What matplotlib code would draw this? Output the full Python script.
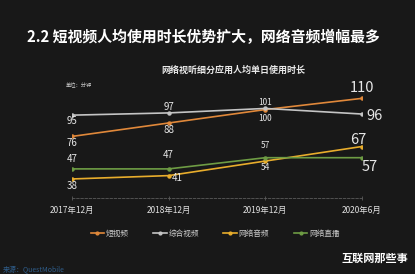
import matplotlib.pyplot as plt
from matplotlib.lines import Line2D

plt.rcParams['font.family'] = ['Noto Sans CJK SC', 'DejaVu Sans']

periods = ['2017年12月', '2018年12月', '2019年12月', '2020年6月']
series_names = ['短视频', '综合视频', '网络音频', '网络直播']
short_video = [76, 88, 100, 110]
general_video = [95, 97, 101, 96]
audio = [38, 41, 54, 67]
live = [47, 47, 57, 57]

colors = ['#e0883a', '#c4c4c4', '#e8ad2c', '#6e9c44']
series = [short_video, general_video, audio, live]

# label offsets in pixels (dx, dy upward) and font sizes per point
offsets = [
    [(0, -7), (0, -7), (0, -9), (0, 10)],    # short video
    [(0, -6), (0, 6), (0, 6), (12, -2)],     # general video
    [(0, -7), (9, -2), (0, -6), (-4, 7)],    # audio
    [(0, 10), (0, 14), (0, 12), (8, -9)],    # live
]
sizes = [7, 7, 6, 10.5]

W, H = 415, 274
fig = plt.figure(figsize=(W / 100, H / 100), dpi=100, facecolor='#181818')
ax = fig.add_axes([72 / W, (H - 198) / H, 290 / W, 118 / H])
ax.set_facecolor('none')

x = list(range(len(periods)))
for vals, c, name, offs in zip(series, colors, series_names, offsets):
    ax.plot(x, vals, color=c, lw=1.2, marker='o', ms=2.2, label=name)
    for i, (v, (dx, dy)) in enumerate(zip(vals, offs)):
        ax.annotate(str(v), (i, v), xytext=(dx * 0.72, dy * 0.72),
                    textcoords='offset points', ha='center', va='center',
                    color='#e6e6e6', fontsize=sizes[i])

ax.set_xlim(0, 3)
ax.set_ylim(21, 126.4)
ax.set_yticks([])
for s in ['top', 'right', 'left']:
    ax.spines[s].set_visible(False)
ax.spines['bottom'].set_color('#5a5a5a')
ax.spines['bottom'].set_linestyle((0, (3, 2)))
ax.spines['bottom'].set_linewidth(0.6)
ax.set_xticks(x)
ax.set_xticklabels(periods, color='#e0e0e0', fontsize=6)
ax.tick_params(axis='x', colors='#5a5a5a', length=3, width=0.6, pad=4,
               labelcolor='#e0e0e0', direction='inout')

fig.text(27 / W, 1 - 37 / H, '2.2 短视频人均使用时长优势扩大，网络音频增幅最多',
         color='white', fontsize=10.7, fontweight='bold', va='center', ha='left')
fig.text(233 / W, 1 - 70 / H, '网络视听细分应用人均单日使用时长',
         color='#e8e8e8', fontsize=6.5, fontweight='bold', va='center', ha='center')
fig.text(66 / W, 1 - 85 / H, '单位：分钟', color='#d0d0d0', fontsize=3.8,
         va='center', ha='left')

handles = [Line2D([], [], color=c, lw=1.2, marker='o', ms=2) for c in colors]
fig.legend(handles, series_names, loc='center', bbox_to_anchor=(215 / W, 1 - 234 / H),
           ncol=4, frameon=False, fontsize=5.5, labelcolor='#cccccc',
           handlelength=1.8, handletextpad=0.2, columnspacing=3.2)

fig.text(3 / W, 1 - 270 / H, '来源：QuestMobile', color='#2f5d8a', fontsize=5,
         va='center', ha='left')
fig.text(408 / W, 1 - 258 / H, '互联网那些事', color='white', fontsize=8,
         fontweight='bold', va='center', ha='right')

fig.savefig('out.png', dpi=100, facecolor=fig.get_facecolor())
